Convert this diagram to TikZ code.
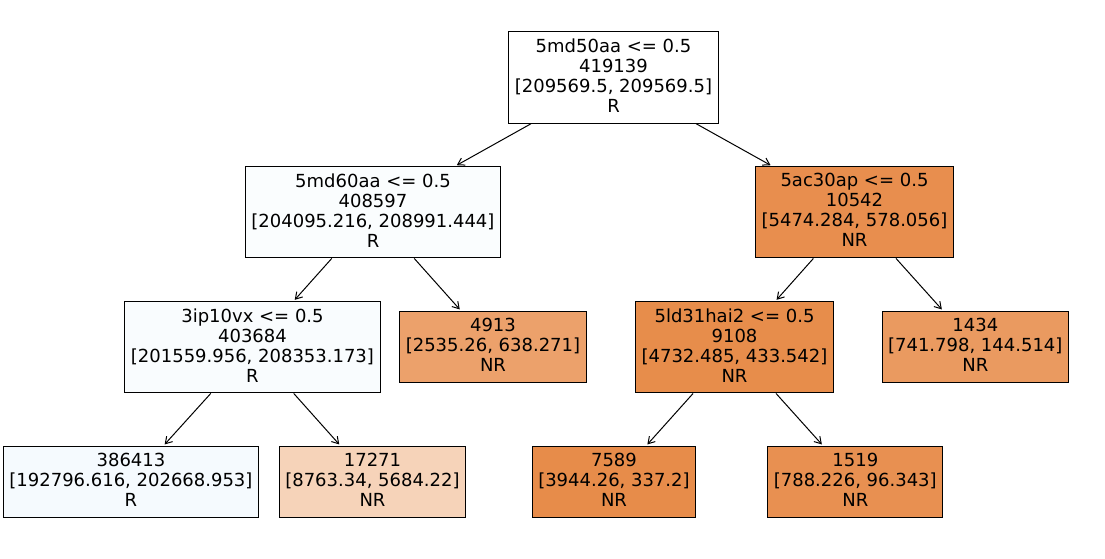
\documentclass[tikz,border=0pt]{standalone}
\usepackage{fontspec}
\setmainfont{DejaVu Sans}
\usetikzlibrary{arrows.meta}
\definecolor{rwhite}{RGB}{255,255,255}
\definecolor{rtintA}{RGB}{250,253,254}
\definecolor{rtintB}{RGB}{249,252,254}
\definecolor{rtintC}{RGB}{245,250,254}
\definecolor{nrpale}{RGB}{246,211,185}
\definecolor{nrsoft}{RGB}{236,161,107}
\definecolor{nrmid}{RGB}{234,154,96}
\definecolor{nrstrong}{RGB}{232,142,78}
\definecolor{nrdeep}{RGB}{231,141,75}
\definecolor{nrdeeper}{RGB}{231,140,74}
\definecolor{nrbright}{RGB}{232,144,81}

\begin{document}
\begin{tikzpicture}[
  x=1pt, y=-1pt,
  treenode/.style={
    draw=black, fill=#1, line width=1pt,
    inner xsep=6pt, inner ysep=0pt, align=center, text depth=4pt,
    font=\fontsize{18}{20}\selectfont
  },
  splitnode/.style={treenode=#1, minimum height=91.5pt},
  leafnode/.style={treenode=#1, minimum height=71.3pt},
  connector/.style={
    -{Straight Barb[length=6.5pt, width=8pt]}, line width=1pt,
    color=black, shorten >=1.5pt
  }
]
\useasboundingbox (0,0) rectangle (1105,559);

% Root split
\node[splitnode=rwhite] (nroot) at (613.5, 77.5) {
  5md50aa <= 0.5\\
  419139\\
  {[209569.5, 209569.5]}\\
  R
};

% Depth 1
\node[splitnode=rtintA] (nmd60) at (373, 212.2) {
  5md60aa <= 0.5\\
  408597\\
  {[204095.216, 208991.444]}\\
  R
};
\node[splitnode=nrstrong] (nac30) at (854.5, 212.2) {
  5ac30ap <= 0.5\\
  10542\\
  {[5474.284, 578.056]}\\
  NR
};

% Depth 2
\node[splitnode=rtintB] (nip10) at (252.5, 347.2) {
  3ip10vx <= 0.5\\
  403684\\
  {[201559.956, 208353.173]}\\
  R
};
\node[leafnode=nrsoft] (l4913) at (493, 346.7) {
  4913\\
  {[2535.26, 638.271]}\\
  NR
};
\node[splitnode=nrdeep] (nld31) at (734.5, 347.2) {
  5ld31hai2 <= 0.5\\
  9108\\
  {[4732.485, 433.542]}\\
  NR
};
\node[leafnode=nrmid] (l1434) at (975.3, 346.7) {
  1434\\
  {[741.798, 144.514]}\\
  NR
};

% Depth 3 leaves
\node[leafnode=rtintC] (l386413) at (131, 481.7) {
  386413\\
  {[192796.616, 202668.953]}\\
  R
};
\node[leafnode=nrpale] (l17271) at (372.5, 481.7) {
  17271\\
  {[8763.34, 5684.22]}\\
  NR
};
\node[leafnode=nrdeeper] (l7589) at (614, 481.7) {
  7589\\
  {[3944.26, 337.2]}\\
  NR
};
\node[leafnode=nrbright] (l1519) at (855.3, 481.7) {
  1519\\
  {[788.226, 96.343]}\\
  NR
};

% Connections
\draw[connector] (nroot) -- (nmd60);
\draw[connector] (nroot) -- (nac30);
\draw[connector] (nmd60) -- (nip10);
\draw[connector] (nmd60) -- (l4913);
\draw[connector] (nip10) -- (l386413);
\draw[connector] (nip10) -- (l17271);
\draw[connector] (nac30) -- (nld31);
\draw[connector] (nac30) -- (l1434);
\draw[connector] (nld31) -- (l7589);
\draw[connector] (nld31) -- (l1519);

\end{tikzpicture}
\end{document}
